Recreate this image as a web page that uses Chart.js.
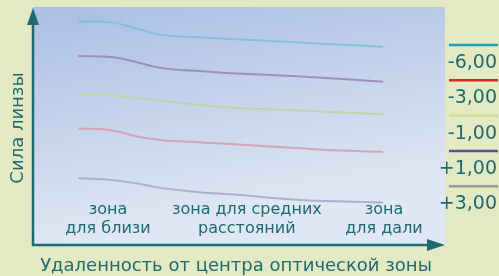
<!DOCTYPE html>
<html>
<head>
<meta charset="utf-8">
<script src="https://cdn.jsdelivr.net/npm/chart.js@4"></script>
<style>
  html, body { margin: 0; padding: 0; background: #e3eac3; }
  #wrap { width: 499px; height: 276px; position: relative; }
</style>
</head>
<body>
<div id="wrap"><canvas id="chart"></canvas></div>
<script>
// distance from optical centre (0..100) and lens power readings (0..100 scale)
const distance = [11, 19, 25, 29, 33, 41, 48, 65, 71, 85];
const minus6 = [93.8, 93.6, 91.0, 89.1, 87.9, 87.2, 86.6, 85.1, 84.5, 83.3];
const minus3 = [79.4, 79.0, 76.9, 75.1, 73.9, 73.0, 72.2, 70.8, 70.2, 68.6];
const minus1 = [63.7, 62.9, 61.8, 61.0, 60.2, 58.8, 57.7, 56.5, 56.0, 54.9];
const plus1 = [49.0, 48.2, 45.7, 44.5, 43.8, 43.1, 42.4, 40.6, 39.9, 39.2];
const plus3 = [28.0, 27.3, 25.9, 24.6, 23.5, 22.1, 21.3, 18.9, 18.5, 17.9];

const legendLabels = ["-6,00", "-3,00", "-1,00", "+1,00", "+3,00"];
const legendColors = ["#1fa3b6", "#d3262a", "#d3e08f", "#5b4f9e", "#9a9a96"];
const lineColors = ["#86bfd8", "#9e8fb8", "#bdd6a8", "#d4a2b0", "#a8b1cd"];

const zoneLabels = [["зона", "для близи"], ["зона для средних", "расстояний"], ["зона", "для дали"]];
const zonePositions = [18.2, 51.9, 85.2];

const TEXT = "#1d6a70";
const FONT = "'DejaVu Sans', sans-serif";

const series = [minus6, minus3, minus1, plus1, plus3];

const decor = {
  id: "decor",
  beforeDatasetsDraw(chart) {
    const { ctx, chartArea: a } = chart;
    const g = ctx.createLinearGradient(a.left, a.top, a.left + 40, a.bottom);
    g.addColorStop(0, "#a9bee4");
    g.addColorStop(1, "#e0e8f3");
    ctx.save();
    ctx.fillStyle = g;
    ctx.fillRect(a.left, a.top, a.right - a.left, a.bottom - a.top);
    ctx.restore();
  },
  afterDatasetsDraw(chart) {
    const { ctx, chartArea: a, scales } = chart;
    ctx.save();
    // axes with arrows
    ctx.strokeStyle = TEXT;
    ctx.fillStyle = TEXT;
    ctx.lineWidth = 2.5;
    ctx.beginPath();
    ctx.moveTo(a.left, a.top + 14);
    ctx.lineTo(a.left, a.bottom);
    ctx.lineTo(a.right - 16, a.bottom);
    ctx.stroke();
    ctx.beginPath();
    ctx.moveTo(a.left, a.top + 1);
    ctx.lineTo(a.left - 6, a.top + 18);
    ctx.lineTo(a.left + 6, a.top + 18);
    ctx.closePath();
    ctx.fill();
    ctx.beginPath();
    ctx.moveTo(a.right, a.bottom);
    ctx.lineTo(a.right - 18, a.bottom - 6);
    ctx.lineTo(a.right - 18, a.bottom + 6);
    ctx.closePath();
    ctx.fill();

    // zone labels
    ctx.font = "16px " + FONT;
    ctx.textAlign = "center";
    ctx.textBaseline = "middle";
    zoneLabels.forEach((lines, i) => {
      const x = scales.x.getPixelForValue(zonePositions[i]);
      lines.forEach((t, j) => ctx.fillText(t, x, a.bottom - 35 + j * 19));
    });

    // axis titles
    ctx.font = "18px " + FONT;
    ctx.fillText("Удаленность от центра оптической зоны", 236, a.bottom + 21);
    ctx.save();
    ctx.translate(18, 128);
    ctx.rotate(-Math.PI / 2);
    ctx.font = "18px " + FONT;
    ctx.fillText("Сила линзы", 0, 0);
    ctx.restore();

    // legend column
    ctx.font = "19px " + FONT;
    ctx.textAlign = "right";
    legendLabels.forEach((t, i) => {
      const y = 45 + i * 35.3;
      ctx.strokeStyle = legendColors[i];
      ctx.lineWidth = 2.5;
      ctx.beginPath();
      ctx.moveTo(449, y);
      ctx.lineTo(498, y);
      ctx.stroke();
      ctx.fillStyle = TEXT;
      ctx.fillText(t, 497, y + 18);
    });
    ctx.restore();
  }
};

new Chart(document.getElementById("chart"), {
  type: "line",
  data: {
    datasets: series.map((vals, i) => ({
      label: legendLabels[i],
      data: vals.map((v, k) => ({ x: distance[k], y: v })),
      borderColor: lineColors[i],
      borderWidth: 2,
      pointRadius: 0,
      tension: 0.4,
      fill: false
    }))
  },
  options: {
    responsive: true,
    maintainAspectRatio: false,
    animation: false,
    layout: { padding: { left: 33, right: 54, top: 7, bottom: 31 } },
    plugins: { legend: { display: false }, tooltip: { enabled: false } },
    scales: {
      x: { type: "linear", min: 0, max: 100, display: false },
      y: { type: "linear", min: 0, max: 100, display: false }
    }
  },
  plugins: [decor]
});
</script>
</body>
</html>
